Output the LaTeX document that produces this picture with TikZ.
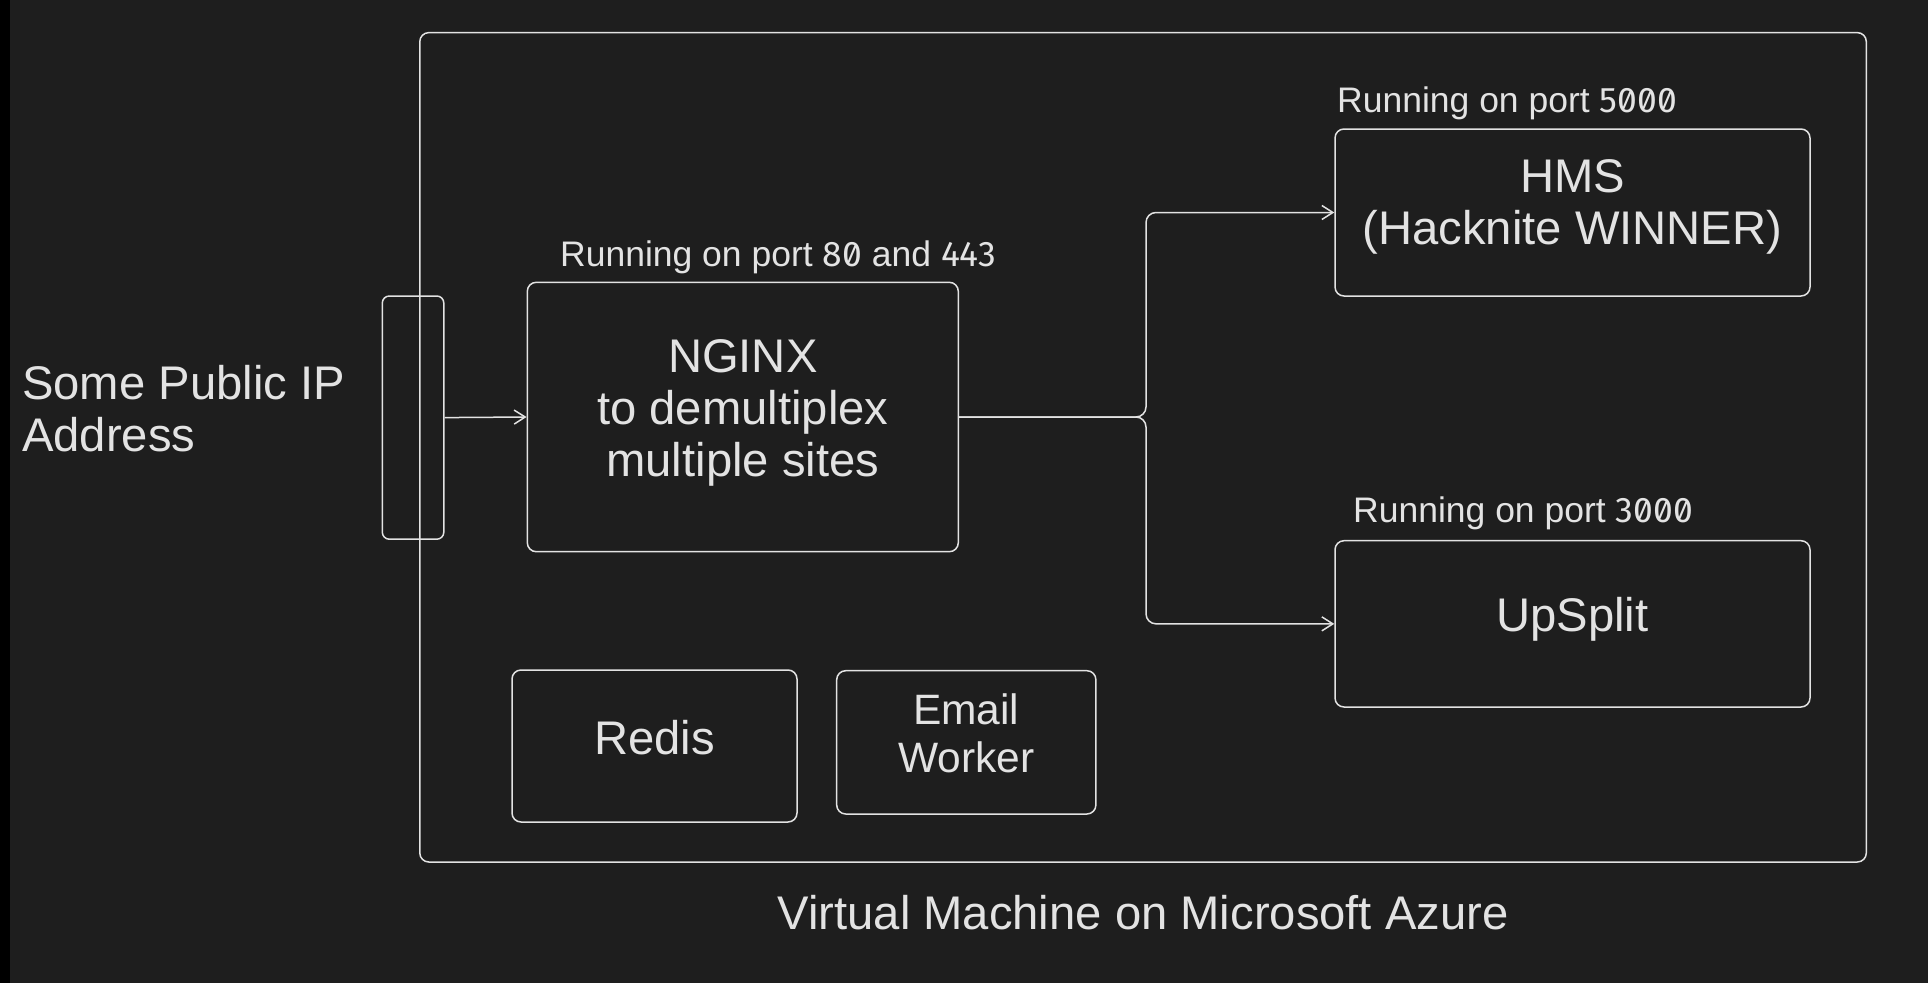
\documentclass[tikz,border=0pt]{standalone}
\usepackage{fontspec}
\setmainfont{Liberation Sans}
\newfontfamily\zf{Fira Sans}[RawFeature=+zero]
\usetikzlibrary{arrows.meta}
\definecolor{bg}{HTML}{1E1E1E}
\definecolor{fg}{HTML}{E3E3E3}
\begin{document}
\begin{tikzpicture}[x=1pt,y=-1pt,
  box/.style={draw=fg, line width=1.5pt, rounded corners=9pt, inner sep=0pt},
  big/.style={text=fg, inner sep=0pt, font=\fontsize{47.2}{52}\selectfont, align=center},
  small/.style={text=fg, inner sep=0pt, font=\fontsize{35.5}{40}\selectfont},
  conn/.style={draw=fg, line width=1.5pt, -{Straight Barb[length=11pt,width=14pt]}}]
\fill[bg] (0,0) rectangle (1928,983);
\fill[black] (0,0) rectangle (10,983);
\useasboundingbox (0,0) rectangle (1928,983);
% boxes
\node[box, minimum width=1446.5pt, minimum height=829.4pt] (vm) at (1143.05,447.3) {};
\node[box, rounded corners=7pt, minimum width=61.5pt, minimum height=243.2pt] (port) at (413.05,417.6) {};
\node[box, minimum width=431pt, minimum height=269.4pt] (nginx) at (742.8,417) {};
\node[box, minimum width=475pt, minimum height=167pt] (hms) at (1572.5,212.5) {};
\node[box, minimum width=475pt, minimum height=166.3pt] (upsplit) at (1572.5,623.85) {};
\node[box, minimum width=285pt, minimum height=152pt] (redis) at (654.5,746) {};
\node[box, minimum width=259.2pt, minimum height=143.3pt] (email) at (966.3,742.35) {};
% texts
\node[big, align=left, anchor=west] (ip) at (22,408.2) {Some Public IP\\Address};
\node[big] (nginxt) at (742.8,413.4) {NGINX\\to demultiplex\\multiple sites};
\node[big] (hmst) at (1572.5,206.8) {HMS\\(Hacknite WINNER)};
\node[big, anchor=base] (upt) at (1572.5,631.7) {UpSplit};
\node[big, anchor=base] (redist) at (654.5,754) {Redis};
\node[big, font=\fontsize{42.5}{48.7}\selectfont] (emailt) at (966.3,733.4) {Email\\Worker};
\node[big, anchor=base] (vmt) at (1143.1,929.3) {Virtual Machine on Microsoft Azure};
\node[small, anchor=base west] (p1) at (560,266) {Running on port {\zf 80} and {\zf 443}};
\node[small, anchor=base west] (p2) at (1337,112.3) {Running on port {\zf 5000}};
\node[small, anchor=base west] (p3) at (1353,522.7) {Running on port {\zf 3000}};
% connectors
\coordinate (split) at (1146,417);
\draw[conn] (port.east) -- (nginx.west);
\draw[conn, rounded corners=10pt] (nginx.east) -- (split) |- (hms.west);
\draw[conn, rounded corners=10pt] (nginx.east) -- (split) |- (upsplit.west);
\end{tikzpicture}
\end{document}
